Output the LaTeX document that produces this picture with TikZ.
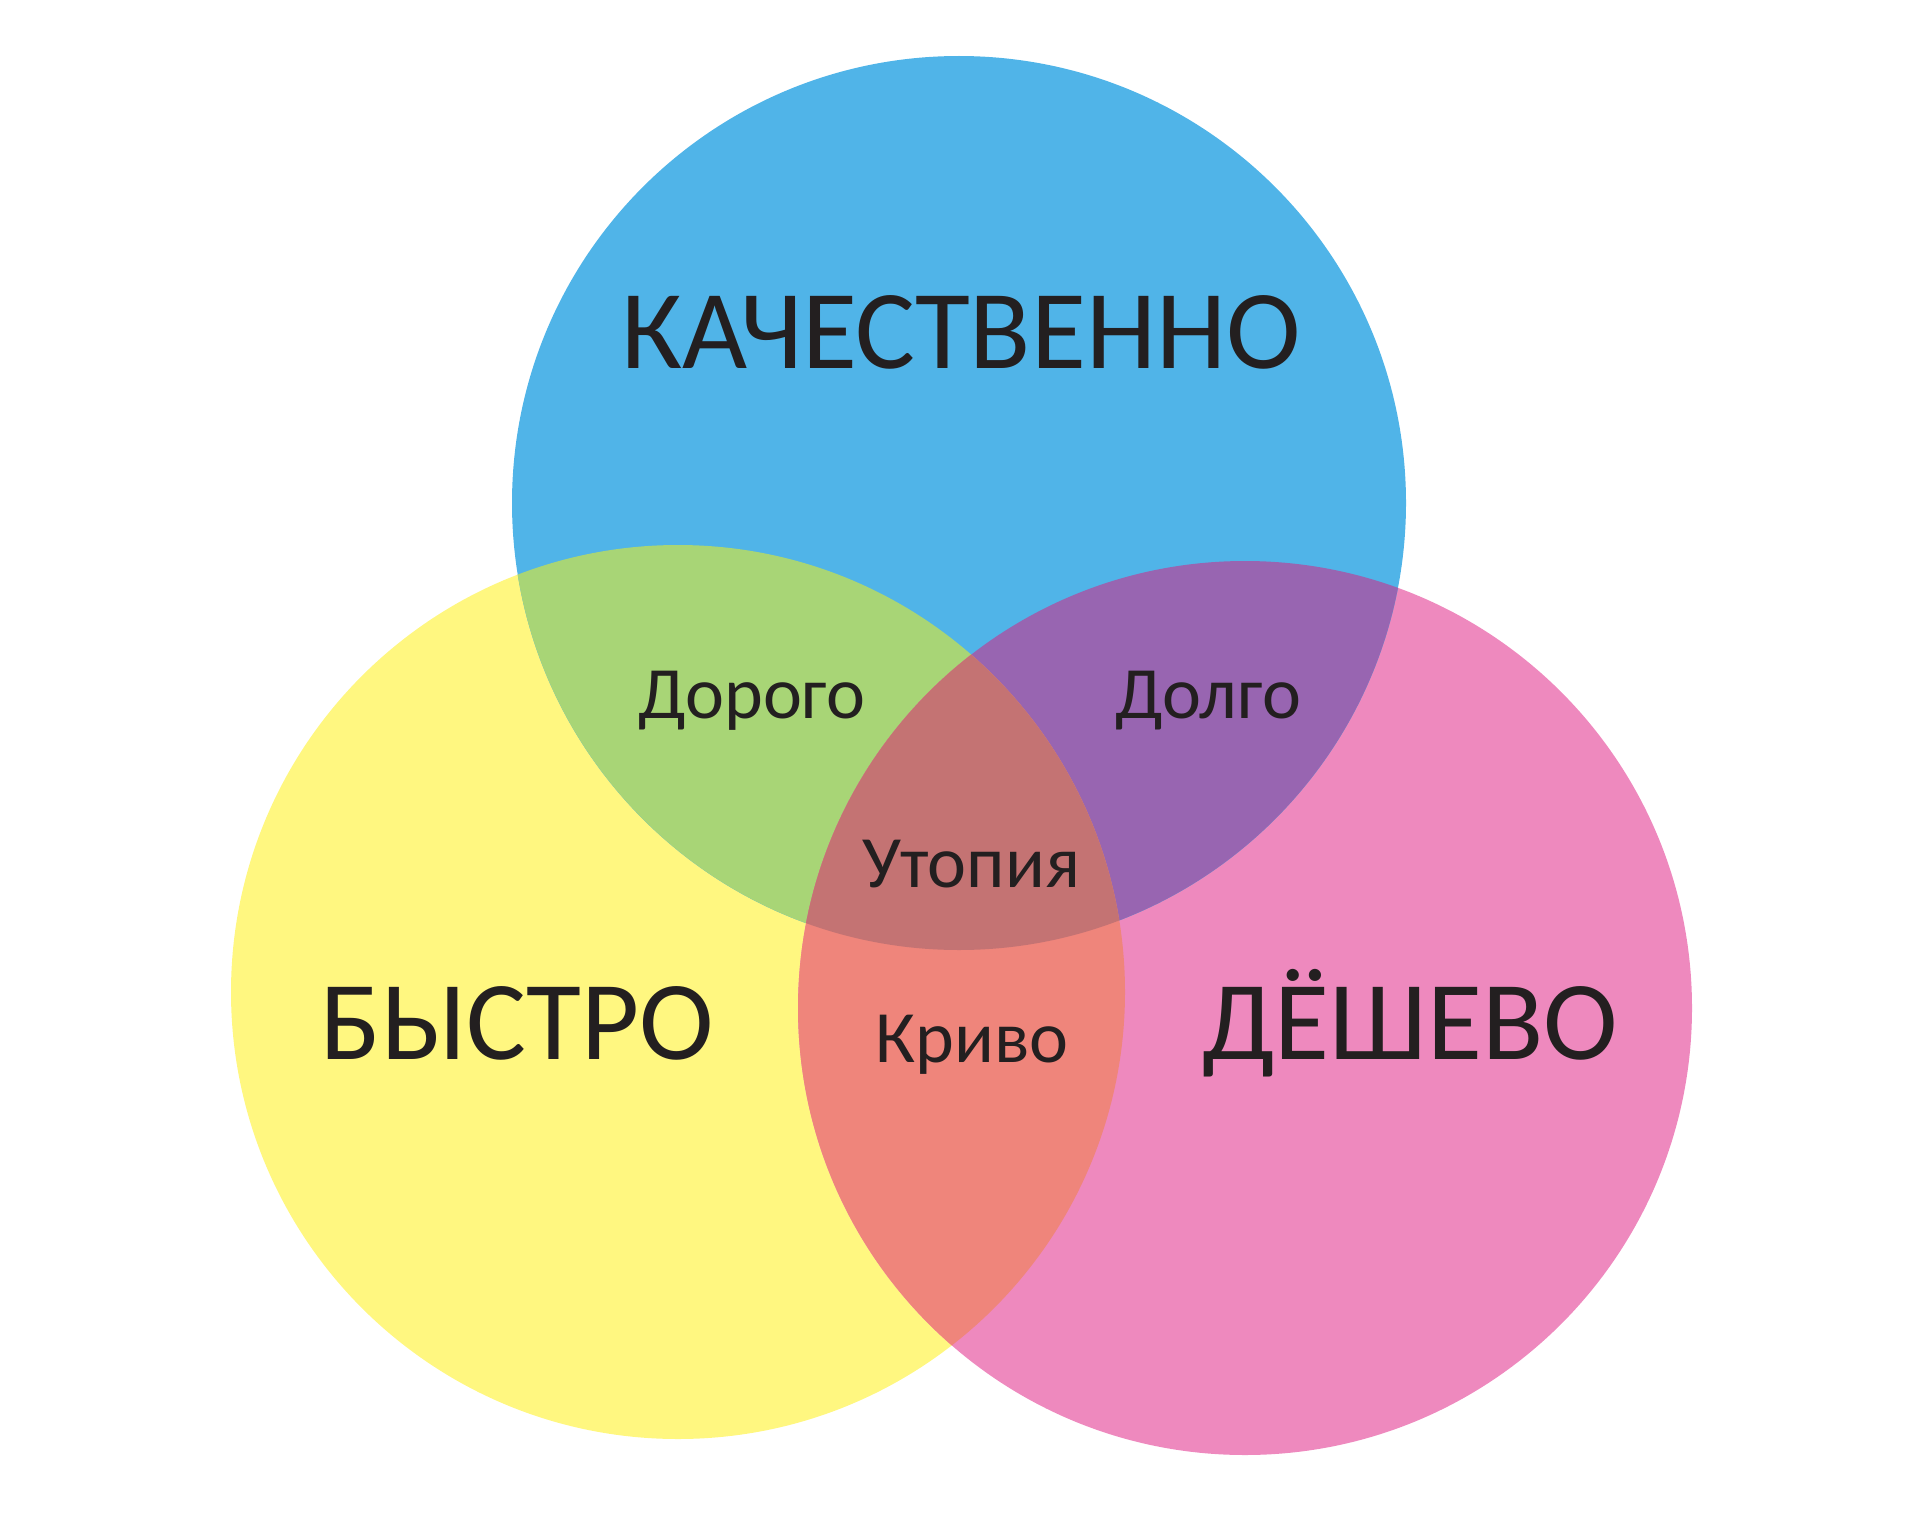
\documentclass[tikz,border=0pt]{standalone}
\usepackage{fontspec}
\setmainfont{Carlito}
\definecolor{kblue}{HTML}{50B4E8}
\definecolor{kyellow}{HTML}{FFF780}
\definecolor{kpink}{HTML}{EE89BE}
\definecolor{kgreen}{HTML}{A8D576}
\definecolor{kpurple}{HTML}{9865B1}
\definecolor{ksalmon}{HTML}{EF857B}
\definecolor{kcentre}{HTML}{C47373}
\definecolor{ktext}{HTML}{231F20}

\begin{document}
\begin{tikzpicture}[big/.style={text=ktext, inner sep=0pt, anchor=base,
				font=\fontsize{32}{36}\selectfont}, small/.style={text=ktext,
				inner sep=0pt, anchor=base, font=\fontsize{21}{25}\selectfont}]
				\useasboundingbox (0,0) rectangle (19.2,15.17);
				\coordinate (cQ) at (9.59,10.14);
				\coordinate (cB) at (6.78,5.25);
				\coordinate (cD) at (12.45,5.09);

			% the three circles
			\fill[kyellow] (cB) circle (4.47);
			\fill[kpink] (cD) circle (4.47);
			\fill[kblue] (cQ) circle (4.47);

			% pairwise overlaps
			\begin{scope}
			\clip (cQ) circle (4.47); \fill[kgreen] (cB) circle (4.47);
			\end{scope}
			\begin{scope}
			\clip (cQ) circle (4.47); \fill[kpurple] (cD) circle (4.47);
			\end{scope}
			\begin{scope}
			\clip (cB) circle (4.47); \fill[ksalmon] (cD) circle (4.47);
			\end{scope}
			\begin{scope}
			\clip (cQ) circle (4.47); \clip (cB) circle (4.47);
			\fill[kcentre] (cD) circle (4.47);
			\end{scope}

			{
			\node[big] (q) at (9.61,11.49) {КАЧЕСТВЕННО};
			\node[big] (b) at (5.17,4.58) {БЫСТРО};
			\node[big] (d) at (14.10,4.58) {ДЁШЕВО};
			}

			{
			\node[small] (qb) at (7.52,7.99) {Дорого};
			\node[small] (qd) at (12.08,7.99) {Долго};
			\node[small] (u) at (9.71,6.30) {Утопия};
			\node[small] (k) at (9.72,4.55) {Криво};
			}
		\end{tikzpicture}
\end{document}
